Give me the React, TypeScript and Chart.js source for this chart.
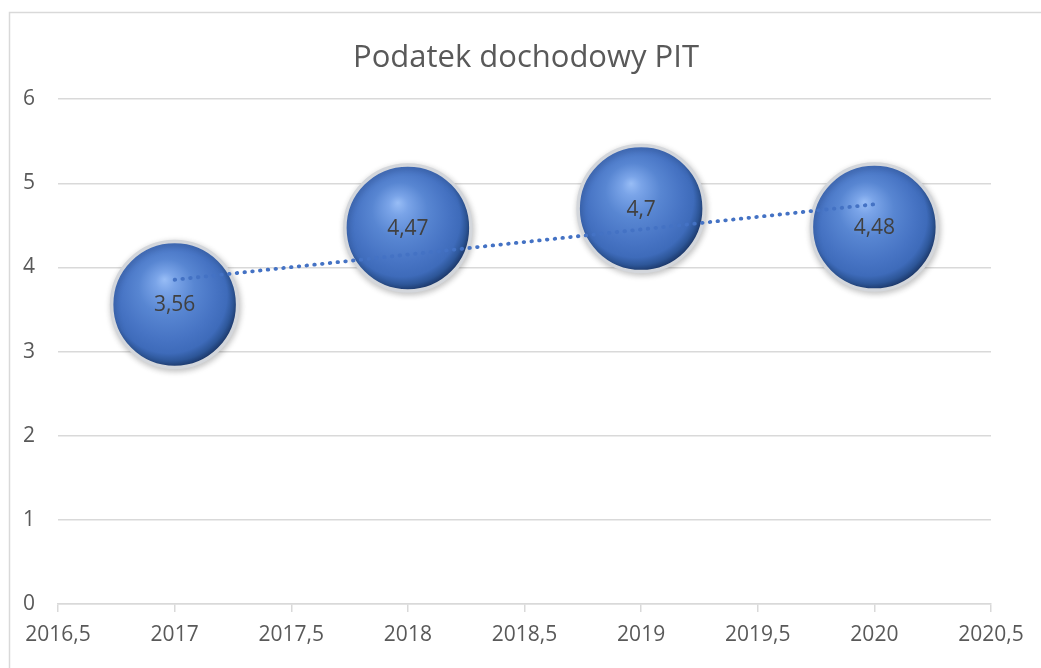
import React, { useEffect, useRef } from "react";
import { Chart, registerables } from "chart.js";

Chart.register(...registerables);

// ---- data ----
const TITLE = "Podatek dochodowy PIT";
const YEARS = [2017, 2018, 2019, 2020];
const PIT_VALUES = [3.56, 4.47, 4.7, 4.48];
const X_MIN = 2016.5;
const X_MAX = 2020.5;
const X_STEP = 0.5;
const Y_MIN = 0;
const Y_MAX = 6;
const Y_STEP = 1;

const FONT = "'Open Sans', 'Noto Sans', sans-serif";
const TEXT = "#595959";
const GRID = "#d9d9d9";
const BUBBLE_R = 63;

const fmt = (v: number) => String(v).replace(".", ",");

// linear least-squares trend line (as Excel's linear trendline)
function linearTrend(xs: number[], ys: number[]) {
  const n = xs.length;
  const mx = xs.reduce((a, b) => a + b, 0) / n;
  const my = ys.reduce((a, b) => a + b, 0) / n;
  let sxy = 0;
  let sxx = 0;
  for (let i = 0; i < n; i++) {
    sxy += (xs[i] - mx) * (ys[i] - my);
    sxx += (xs[i] - mx) * (xs[i] - mx);
  }
  const slope = sxy / sxx;
  const icpt = my - slope * mx;
  return (x: number) => icpt + slope * x;
}

export default function App() {
  const ref = useRef<HTMLCanvasElement | null>(null);

  useEffect(() => {
    const canvas = ref.current;
    if (!canvas) return;
    const trend = linearTrend(YEARS, PIT_VALUES);
    const tx0 = YEARS[0];
    const tx1 = YEARS[YEARS.length - 1];

    const sphereFill = (c: any) => {
      const chart = c.chart;
      if (!chart.chartArea || !c.raw) return "#3f6cbd";
      const x = chart.scales.x.getPixelForValue(c.raw.x);
      const y = chart.scales.y.getPixelForValue(c.raw.y);
      const r = BUBBLE_R;
      const g = chart.ctx.createRadialGradient(
        x - r * 0.16, y - r * 0.4, 0,
        x - r * 0.08, y - r * 0.1, r * 1.1
      );
      g.addColorStop(0, "#98bdf6");
      g.addColorStop(0.14, "#7aa4e8");
      g.addColorStop(0.4, "#5886d2");
      g.addColorStop(0.68, "#4774c4");
      g.addColorStop(0.84, "#3e6bba");
      g.addColorStop(0.93, "#2d5698");
      g.addColorStop(1, "#1e3b6f");
      return g;
    };

    const framePlugin = {
      id: "frame",
      beforeDraw(chart: any) {
        const ctx = chart.ctx;
        ctx.save();
        ctx.fillStyle = "#ffffff";
        ctx.fillRect(0, 0, chart.width, chart.height);
        ctx.strokeStyle = GRID;
        ctx.lineWidth = 1.5;
        ctx.strokeRect(9.5, 12.5, chart.width + 20, chart.height + 20);
        ctx.restore();
      },
    };

    const shadowPlugin = {
      id: "sphereShadow",
      beforeDatasetDraw(chart: any, args: any) {
        if (args.meta.type !== "bubble") return;
        const ctx = chart.ctx;
        ctx.save();
        ctx.shadowColor = "rgba(0,0,0,0.22)";
        ctx.shadowBlur = 6;
        ctx.shadowOffsetX = 1;
        ctx.shadowOffsetY = 2;
      },
      afterDatasetDraw(chart: any, args: any) {
        if (args.meta.type !== "bubble") return;
        chart.ctx.restore();
      },
    };

    const labelPlugin = {
      id: "bubbleLabels",
      afterDatasetsDraw(chart: any) {
        const ctx = chart.ctx;
        chart.data.datasets.forEach((ds: any, di: number) => {
          const meta = chart.getDatasetMeta(di);
          if (meta.type !== "bubble") return;
          meta.data.forEach((el: any, i: number) => {
            ctx.save();
            ctx.font = `21px ${FONT}`;
            ctx.fillStyle = "#404040";
            ctx.textAlign = "center";
            ctx.textBaseline = "middle";
            ctx.fillText(fmt(ds.data[i].y), el.x, el.y + 1);
            ctx.restore();
          });
        });
      },
    };

    const chart = new Chart(canvas, {
      type: "bubble",
      data: {
        datasets: [
          {
            type: "line",
            label: "Trend",
            data: [
              { x: tx0, y: trend(tx0) },
              { x: tx1, y: trend(tx1) },
            ],
            borderColor: "#4472c4",
            borderWidth: 3.8,
            borderDash: [0.6, 7.2],
            borderCapStyle: "round",
            pointRadius: 0,
            fill: false,
            order: 0,
          } as any,
          {
            type: "bubble",
            label: "PIT",
            data: YEARS.map((x, i) => ({ x, y: PIT_VALUES[i] })),
            radius: BUBBLE_R,
            hoverRadius: 0,
            backgroundColor: sphereFill,
            borderColor: "#d3d6db",
            borderWidth: 3.5,
            order: 1,
          } as any,
        ],
      },
      options: {
        responsive: false,
        animation: false,
        devicePixelRatio: 1,
        layout: { autoPadding: false, padding: { left: 11, right: 0, top: 0, bottom: 0 } },
        plugins: {
          legend: { display: false },
          tooltip: { enabled: false },
          title: {
            display: true,
            text: TITLE,
            color: TEXT,
            font: { family: FONT, size: 31, weight: "normal" },
            padding: { top: 40, bottom: 22 },
          },
        },
        scales: {
          x: {
            type: "linear",
            min: X_MIN,
            max: X_MAX,
            afterFit: (s: any) => {
              s.height = 64;
              s.paddingRight = 50;
            },
            ticks: {
              stepSize: X_STEP,
              color: TEXT,
              font: { family: FONT, size: 21 },
              padding: 10,
              maxRotation: 0,
              callback: (v: any) => fmt(Number(v)),
            },
            grid: {
              drawOnChartArea: false,
              drawTicks: true,
              tickLength: 8,
              color: GRID,
              lineWidth: 1.5,
            },
            border: { display: true, color: GRID, width: 1.5 },
          },
          y: {
            type: "linear",
            min: Y_MIN,
            max: Y_MAX,
            afterFit: (s: any) => {
              s.width = 47;
            },
            ticks: {
              stepSize: Y_STEP,
              color: TEXT,
              font: { family: FONT, size: 21 },
              padding: 23,
              callback: (v: any) => fmt(Number(v)),
            },
            grid: {
              drawTicks: false,
              color: GRID,
              lineWidth: 1.5,
            },
            border: { display: false },
          },
        },
      } as any,
      plugins: [framePlugin, shadowPlugin, labelPlugin],
    });

    return () => chart.destroy();
  }, []);

  return (
    <div style={{ position: "fixed", left: 0, top: 0, width: 1041, height: 668, background: "#fff" }}>
      <canvas ref={ref} width={1041} height={668} style={{ display: "block", width: 1041, height: 668 }} />
    </div>
  );
}
